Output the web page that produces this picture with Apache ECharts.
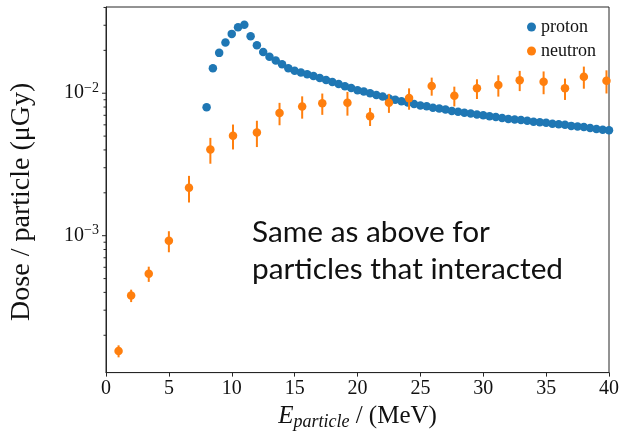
<!DOCTYPE html>
<html>
<head>
<meta charset="utf-8">
<script src="https://cdn.jsdelivr.net/npm/echarts@6/dist/echarts.min.js"></script>
<style>
  html, body { margin: 0; padding: 0; background: #ffffff; }
  #chart { width: 622px; height: 436px; }
</style>
</head>
<body>
<div id="chart"></div>
<script>
// Proton dose per particle (µGy) against particle energy (MeV)
const protonEnergy = [
  8, 8.5, 9, 9.5, 10, 10.5, 11, 11.5, 12, 12.5, 13, 13.5, 14, 14.5, 15, 15.5,
  16, 16.5, 17, 17.5, 18, 18.5, 19, 19.5, 20, 20.5, 21, 21.5, 22, 22.5, 23, 23.5,
  24, 24.5, 25, 25.5, 26, 26.5, 27, 27.5, 28, 28.5, 29, 29.5, 30, 30.5, 31, 31.5,
  32, 32.5, 33, 33.5, 34, 34.5, 35, 35.5, 36, 36.5, 37, 37.5, 38, 38.5, 39, 39.5, 40
];
const protonDose = [
  0.00798, 0.0150, 0.0192, 0.0227, 0.0261, 0.0291, 0.0303, 0.0251, 0.0217, 0.0195,
  0.0180, 0.0170, 0.0160, 0.0150, 0.0144, 0.0140, 0.0136, 0.0132, 0.0128, 0.0124,
  0.0120, 0.0116, 0.0112, 0.0109, 0.0105, 0.0103, 0.0100, 0.0097, 0.0095, 0.0092,
  0.0090, 0.0088, 0.0086, 0.0084, 0.0082, 0.0081, 0.0079, 0.0078, 0.0077, 0.0075,
  0.0074, 0.0073, 0.0072, 0.0071, 0.0070, 0.0069, 0.0068, 0.0067, 0.0066, 0.00655,
  0.0065, 0.0064, 0.0063, 0.00625, 0.0062, 0.0061, 0.00605, 0.0060, 0.0059, 0.00585,
  0.0058, 0.0057, 0.0056, 0.00555, 0.0055
];

// Neutron dose per particle with its uncertainty
const neutronEnergy = [
  1.0, 2.0, 3.4, 5.0, 6.6, 8.3, 10.1, 12.0, 13.8, 15.6, 17.2, 19.2,
  21.0, 22.5, 24.1, 25.9, 27.7, 29.5, 31.2, 32.9, 34.8, 36.5, 38.0, 39.8
];
const neutronDose = [
  1.55e-4, 3.8e-4, 5.4e-4, 9.2e-4, 2.17e-3, 4.03e-3, 5.03e-3, 5.30e-3, 7.26e-3, 8.07e-3, 8.50e-3, 8.59e-3,
  6.89e-3, 8.59e-3, 9.24e-3, 1.124e-2, 9.60e-3, 1.082e-2, 1.142e-2, 1.235e-2, 1.203e-2, 1.082e-2, 1.307e-2, 1.222e-2
];
const neutronErr = [
  1.5e-5, 3.8e-5, 6.6e-5, 1.55e-4, 4.6e-4, 8.3e-4, 1.0e-3, 1.11e-3, 1.30e-3, 1.44e-3, 1.45e-3, 1.63e-3,
  1.0e-3, 1.31e-3, 1.58e-3, 1.63e-3, 1.52e-3, 1.71e-3, 1.95e-3, 2.0e-3, 2.19e-3, 1.85e-3, 2.31e-3, 2.26e-3
];

// Axis ranges and tick values
const xRange = [0, 40];
const yRange = [1.094e-4, 0.0403];
const xTickStep = 5;
const yMajorTicks = [1e-3, 1e-2];
const yMinorTicks = [
  2e-4, 3e-4, 4e-4, 5e-4, 6e-4, 7e-4, 8e-4, 9e-4,
  2e-3, 3e-3, 4e-3, 5e-3, 6e-3, 7e-3, 8e-3, 9e-3,
  2e-2, 3e-2, 4e-2
];

const SERIF = "'Liberation Serif', 'Times New Roman', serif";
const AXIS_COLOR = '#262626';
const BLUE = '#1f77b4';
const ORANGE = '#ff7f0e';

const chart = echarts.init(document.getElementById('chart'), null, { renderer: 'canvas' });

const yTickData = yMajorTicks.map(v => [xRange[0], v, 4])
  .concat(yMinorTicks.map(v => [xRange[0], v, 2.5]));

const option = {
  animation: false,
  backgroundColor: '#ffffff',
  grid: {
    left: 106, right: 9, top: 7, bottom: 54,
    show: true, borderColor: AXIS_COLOR, borderWidth: 1, backgroundColor: 'transparent'
  },
  legend: {
    data: ['proton', 'neutron'],
    orient: 'vertical',
    left: 527, top: 18,
    padding: 0,
    itemWidth: 9, itemHeight: 9, itemGap: 6,
    icon: 'circle',
    textStyle: { fontFamily: SERIF, fontSize: 18, color: '#111' }
  },
  xAxis: {
    type: 'value',
    min: xRange[0], max: xRange[1], interval: xTickStep,
    name: '{i|E}{sub|particle}{n| / (MeV)}',
    nameLocation: 'middle',
    nameGap: 26,
    nameTextStyle: {
      rich: {
        i: { fontFamily: SERIF, fontStyle: 'italic', fontSize: 25, color: '#111' },
        sub: { fontFamily: SERIF, fontStyle: 'italic', fontSize: 18, color: '#111', padding: [12, 0, 0, 0] },
        n: { fontFamily: SERIF, fontSize: 25, color: '#111' }
      }
    },
    axisLine: { show: true, lineStyle: { color: AXIS_COLOR, width: 1 } },
    axisTick: { show: true, inside: false, length: 4, lineStyle: { color: AXIS_COLOR, width: 1 } },
    axisLabel: { fontFamily: SERIF, fontSize: 20, color: '#111', margin: 6 },
    splitLine: { show: false }
  },
  yAxis: {
    type: 'log',
    logBase: 10,
    min: yRange[0], max: yRange[1],
    name: 'Dose / particle (\u03bcGy)',
    nameLocation: 'middle',
    nameGap: 70,
    nameTextStyle: { fontFamily: SERIF, fontSize: 28, color: '#111', padding: [0, 24, 0, 0] },
    axisLine: { show: true, lineStyle: { color: AXIS_COLOR, width: 1 } },
    axisTick: { show: false },
    axisLabel: {
      margin: 7,
      showMinLabel: false,
      showMaxLabel: false,
      formatter: function (v) {
        const p = Math.log10(v);
        if (Math.abs(p - Math.round(p)) > 1e-6) return '';
        const e = Math.round(p);
        return '{b|10}{s|' + (e < 0 ? '\u2212' : '') + Math.abs(e) + '}';
      },
      rich: {
        b: { fontFamily: SERIF, fontSize: 20, color: '#111' },
        s: { fontFamily: SERIF, fontSize: 14, color: '#111', padding: [0, 0, 10, 0] }
      }
    },
    splitLine: { show: false }
  },
  graphic: [
    {
      type: 'text',
      left: 252, top: 214,
      style: {
        text: 'Same as above for\nparticles that interacted',
        font: "29.8px Lato, 'Noto Sans', sans-serif",
        fill: '#111',
        lineHeight: 37
      },
      z: 10
    }
  ],
  series: [
    {
      // left-axis major and minor ticks placed on the log scale
      type: 'custom',
      coordinateSystem: 'cartesian2d',
      clip: false,
      silent: true,
      data: yTickData,
      encode: { x: 0, y: 1 },
      renderItem: function (params, api) {
        const p = api.coord([api.value(0), api.value(1)]);
        const len = api.value(2);
        return {
          type: 'line',
          shape: { x1: p[0] - len, y1: p[1], x2: p[0], y2: p[1] },
          style: { stroke: AXIS_COLOR, lineWidth: 1 }
        };
      },
      z: 1
    },
    {
      name: 'proton',
      type: 'scatter',
      symbol: 'circle',
      symbolSize: 8.5,
      itemStyle: { color: BLUE, opacity: 1 },
      data: protonEnergy.map((x, i) => [x, protonDose[i]]),
      z: 2
    },
    {
      // neutron error bars
      type: 'custom',
      coordinateSystem: 'cartesian2d',
      silent: true,
      data: neutronEnergy.map((x, i) => [x, neutronDose[i] - neutronErr[i], neutronDose[i] + neutronErr[i]]),
      encode: { x: 0, y: [1, 2] },
      renderItem: function (params, api) {
        const lo = api.coord([api.value(0), api.value(1)]);
        const hi = api.coord([api.value(0), api.value(2)]);
        return {
          type: 'line',
          shape: { x1: lo[0], y1: lo[1], x2: hi[0], y2: hi[1] },
          style: { stroke: ORANGE, lineWidth: 2 }
        };
      },
      z: 3
    },
    {
      name: 'neutron',
      type: 'scatter',
      symbol: 'circle',
      symbolSize: 8.5,
      itemStyle: { color: ORANGE, opacity: 1 },
      data: neutronEnergy.map((x, i) => [x, neutronDose[i]]),
      z: 4
    }
  ]
};

chart.setOption(option);
</script>
</body>
</html>
